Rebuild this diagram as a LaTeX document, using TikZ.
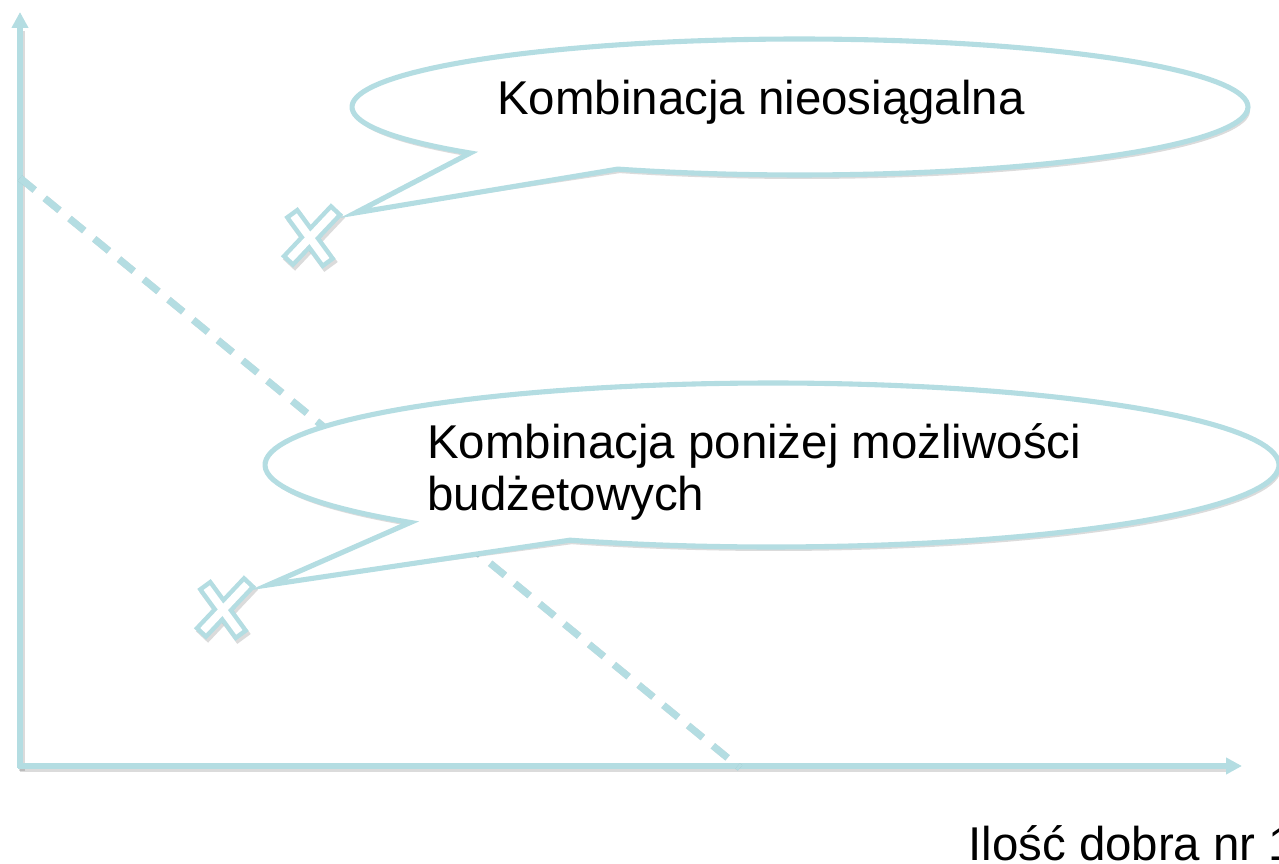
\documentclass[tikz,border=0pt]{standalone}
\usepackage{fontspec}
\setmainfont{Liberation Sans}
\usetikzlibrary{arrows.meta}
\definecolor{lineblue}{RGB}{180,221,226}
\tikzset{
  axisline/.style={draw=lineblue, line width=3.4pt, -{Triangle[length=9pt,width=9pt]}},
  budgetline/.style={draw=lineblue, line width=4pt, dash pattern=on 0.38cm off 0.26cm},
  calloutshape/.style={draw=lineblue, fill=white, line width=2.9pt, line join=miter},
  shadowfill/.style={fill=black, opacity=0.14, draw=none},
  shadowstroke/.style={draw=black, opacity=0.14},
  crossouter/.style={draw=lineblue, line width=9.5pt},
  crossinner/.style={draw=white, line width=4.4pt, shorten <=2.6pt, shorten >=2.6pt},
  label/.style={inner sep=0pt, font=\fontsize{27}{30}\selectfont, text=black}
}
\begin{document}
\begin{tikzpicture}[x=0.02cm, y=-0.02cm]
\clip (0,0) rectangle (1279,864);
\useasboundingbox (0,0) rectangle (1279,864);

% axes
\coordinate (O) at (20,766);
\coordinate (ytip) at (20,12);
\coordinate (xtip) at (1242,766);
\coordinate (bstart) at (20,178);
\coordinate (bend) at (740,768);

\begin{scope}[shift={(2,3)}]
  \draw[shadowstroke, line width=3.6pt] (20,768) -- (20,28);
  \draw[shadowstroke, line width=3.6pt] (18,766) -- (1226,766);
\end{scope}
\draw[axisline] (20,768) -- (ytip);
\draw[axisline] (18,766) -- (xtip);

% budget line
\begin{scope}[shift={(2,3)}]
  \draw[shadowstroke, line width=4pt, dash pattern=on 0.38cm off 0.26cm] (bstart) -- (bend);
\end{scope}
\draw[budgetline] (bstart) -- (bend);

% crosses marking the two combinations
\foreach \cx/\cy/\nm in {311/238/upper, 224/610/lower} {
  \coordinate (\nm) at (\cx,\cy);
  \begin{scope}[shift={(\nm)}]
    \begin{scope}[shift={(2,3)}]
      \draw[shadowstroke, line width=9.5pt] (-20,-26) -- (18,26);
      \draw[shadowstroke, line width=9.5pt] (26,-29) -- (-24,24);
    \end{scope}
    \draw[crossouter] (-20,-26) -- (18,26);
    \draw[crossouter] (26,-29) -- (-24,24);
    \draw[crossinner] (-20,-26) -- (18,26);
    \draw[crossinner] (26,-29) -- (-24,24);
  \end{scope}
}

% upper callout
\coordinate (tipA) at (355,213);
\begin{scope}[shift={(2,4)}]
  \fill[shadowfill] plot[domain=114:-222.6, samples=140] ({800+448*cos(\x)}, {107+68*sin(\x)}) -- (tipA) -- cycle;
\end{scope}
\draw[calloutshape] plot[domain=114:-222.6, samples=140] ({800+448*cos(\x)}, {107+68*sin(\x)}) -- (tipA) -- cycle;

% lower callout
\coordinate (tipB) at (268,585);
\begin{scope}[shift={(2,4)}]
  \fill[shadowfill] plot[domain=113.5:-224.5, samples=140] ({772+507*cos(\x)}, {465+82*sin(\x)}) -- (tipB) -- cycle;
\end{scope}
\draw[calloutshape] plot[domain=113.5:-224.5, samples=140] ({772+507*cos(\x)}, {465+82*sin(\x)}) -- (tipB) -- cycle;

% texts
\node[label, anchor=base west] (unreach) at (497,115) {Kombinacja nieosiągalna};
\node[label, anchor=base west] (below1) at (427,459) {Kombinacja poniżej możliwości};
\node[label, anchor=base west] (below2) at (427,511) {budżetowych};
\node[label, anchor=base west] (xlabel) at (968,861) {Ilość dobra nr 1};
\end{tikzpicture}
\end{document}
